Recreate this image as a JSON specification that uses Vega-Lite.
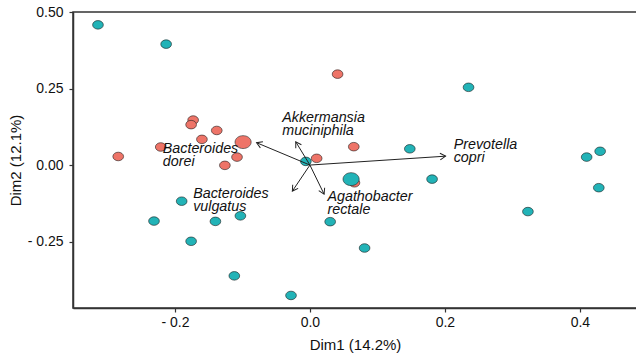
{
  "$schema": "https://vega.github.io/schema/vega-lite/v6.json",
  "width": 564,
  "height": 296,
  "autosize": {"type": "none"},
  "padding": {"left": 73, "top": 12, "right": 0, "bottom": 48},
  "background": "white",
  "config": {
    "view": {"stroke": "#333333", "strokeWidth": 1.5},
    "font": "Liberation Sans",
    "axis": {
      "domainColor": "#333333", "domainWidth": 1.5, "tickColor": "#333333", "tickWidth": 1.2, "tickSize": 4,
      "labelFont": "Liberation Sans", "labelFontSize": 14, "labelColor": "#111111",
      "titleFont": "Liberation Sans", "titleFontSize": 15, "titleFontWeight": "normal", "titleColor": "#111111",
      "grid": false
    }
  },
  "datasets": {
    "pts": [
      {"x": -0.284, "y": 0.028, "grp": "A", "big": "n"},
      {"x": -0.221, "y": 0.059, "grp": "A", "big": "n"},
      {"x": -0.173, "y": 0.147, "grp": "A", "big": "n"},
      {"x": -0.176, "y": 0.132, "grp": "A", "big": "n"},
      {"x": -0.160, "y": 0.084, "grp": "A", "big": "n"},
      {"x": -0.138, "y": 0.113, "grp": "A", "big": "n"},
      {"x": -0.099, "y": 0.075, "grp": "A", "big": "y"},
      {"x": -0.108, "y": 0.026, "grp": "A", "big": "n"},
      {"x": -0.126, "y": -0.001, "grp": "A", "big": "n"},
      {"x": 0.010, "y": 0.022, "grp": "A", "big": "n"},
      {"x": 0.041, "y": 0.297, "grp": "A", "big": "n"},
      {"x": 0.065, "y": 0.060, "grp": "A", "big": "n"},
      {"x": 0.066, "y": -0.058, "grp": "A", "big": "n"},
      {"x": -0.314, "y": 0.458, "grp": "B", "big": "n"},
      {"x": -0.213, "y": 0.395, "grp": "B", "big": "n"},
      {"x": 0.235, "y": 0.254, "grp": "B", "big": "n"},
      {"x": 0.148, "y": 0.053, "grp": "B", "big": "n"},
      {"x": 0.410, "y": 0.026, "grp": "B", "big": "n"},
      {"x": 0.430, "y": 0.045, "grp": "B", "big": "n"},
      {"x": 0.061, "y": -0.046, "grp": "B", "big": "y"},
      {"x": 0.181, "y": -0.046, "grp": "B", "big": "n"},
      {"x": 0.428, "y": -0.074, "grp": "B", "big": "n"},
      {"x": 0.323, "y": -0.152, "grp": "B", "big": "n"},
      {"x": 0.030, "y": -0.185, "grp": "B", "big": "n"},
      {"x": 0.081, "y": -0.271, "grp": "B", "big": "n"},
      {"x": -0.190, "y": -0.118, "grp": "B", "big": "n"},
      {"x": -0.231, "y": -0.183, "grp": "B", "big": "n"},
      {"x": -0.140, "y": -0.184, "grp": "B", "big": "n"},
      {"x": -0.103, "y": -0.166, "grp": "B", "big": "n"},
      {"x": -0.176, "y": -0.249, "grp": "B", "big": "n"},
      {"x": -0.112, "y": -0.362, "grp": "B", "big": "n"},
      {"x": -0.028, "y": -0.426, "grp": "B", "big": "n"},
      {"x": -0.006, "y": 0.012, "grp": "B", "big": "n"}
    ],
    "arrows": [
      {"taxon": "Prevotella\ncopri", "x": 0.201, "y": 0.029, "lx": 0.213, "ly": 0.051},
      {"taxon": "Bacteroides\ndorei", "x": -0.079, "y": 0.073, "lx": -0.218, "ly": 0.038},
      {"taxon": "Akkermansia\nmuciniphila", "x": -0.021, "y": 0.076, "lx": -0.041, "ly": 0.141},
      {"taxon": "Bacteroides\nvulgatus", "x": -0.026, "y": -0.085, "lx": -0.173, "ly": -0.109},
      {"taxon": "Agathobacter\nrectale", "x": 0.021, "y": -0.095, "lx": 0.026, "ly": -0.118}
    ]
  },
  "encoding": {
    "x": {"type": "quantitative", "scale": {"domain": [-0.351, 0.4846], "nice": false, "zero": false}},
    "y": {"type": "quantitative", "scale": {"domain": [-0.467, 0.5], "nice": false, "zero": false}}
  },
  "layer": [
    {
      "mark": {"type": "rule", "color": "#9a9a9a", "strokeWidth": 0.7, "strokeDash": [2, 2]},
      "encoding": {"x": {"datum": 0, "type": "quantitative"}}
    },
    {
      "mark": {"type": "rule", "color": "#9a9a9a", "strokeWidth": 0.7, "strokeDash": [2, 2]},
      "encoding": {"y": {"datum": 0, "type": "quantitative"}}
    },
    {
      "data": {"name": "pts"},
      "mark": {"type": "point", "filled": true, "opacity": 1, "stroke": "#222222", "strokeWidth": 0.6,
               "shape": "M -1 0 A 1 0.8 0 1 1 1 0 A 1 0.8 0 1 1 -1 0 Z"},
      "encoding": {
        "x": {"field": "x", "type": "quantitative",
              "axis": {"title": "Dim1 (14.2%)", "values": [-0.2, 0, 0.2, 0.4], "labelPadding": 3, "titlePadding": 8,
                       "labelExpr": "datum.value < 0 ? '- ' + format(abs(datum.value), '.1f') : format(datum.value, '.1f')"}},
        "y": {"field": "y", "type": "quantitative",
              "axis": {"title": "Dim2 (12.1%)", "values": [-0.25, 0, 0.25, 0.5], "labelPadding": 6, "titlePadding": 4,
                       "labelExpr": "datum.value < 0 ? '- ' + format(abs(datum.value), '.2f') : format(datum.value, '.2f')"}},
        "fill": {"field": "grp", "type": "nominal", "scale": {"domain": ["A", "B"], "range": ["#EE7468", "#22B3B7"]}, "legend": null},
        "size": {"field": "big", "type": "nominal", "scale": {"domain": ["n", "y"], "range": [115, 260]}, "legend": null}
      }
    },
    {
      "data": {"name": "arrows"},
      "mark": {"type": "rule", "color": "#222222", "strokeWidth": 1},
      "encoding": {
        "x": {"field": "x", "type": "quantitative"},
        "y": {"field": "y", "type": "quantitative"},
        "x2": {"datum": 0},
        "y2": {"datum": 0}
      }
    },
    {
      "data": {"name": "arrows"},
      "mark": {"type": "point", "filled": false, "stroke": "#222222", "strokeWidth": 1, "opacity": 1, "size": 120,
               "shape": "M -1 -0.6 L 0 0 L -1 0.6",
               "angle": {"expr": "atan2(scale('y', datum.y) - scale('y', 0), scale('x', datum.x) - scale('x', 0)) * 180 / PI"}},
      "encoding": {
        "x": {"field": "x", "type": "quantitative"},
        "y": {"field": "y", "type": "quantitative"}
      }
    },
    {
      "data": {"name": "arrows"},
      "mark": {"type": "text", "font": "Liberation Sans", "fontStyle": "italic", "fontSize": 14.3, "align": "left",
               "baseline": "alphabetic", "lineBreak": "\n", "lineHeight": 12.8, "color": "#111111"},
      "encoding": {
        "x": {"field": "lx", "type": "quantitative"},
        "y": {"field": "ly", "type": "quantitative"},
        "text": {"field": "taxon"}
      }
    }
  ]
}
